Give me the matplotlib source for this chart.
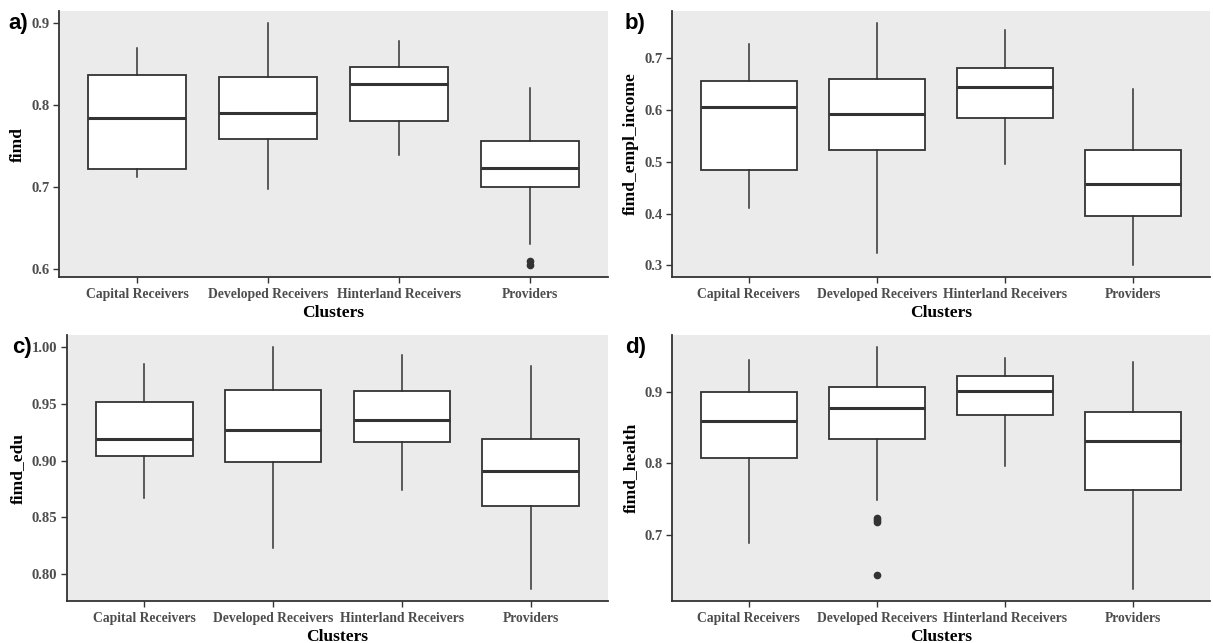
import matplotlib
matplotlib.use("Agg")
import matplotlib.pyplot as plt

categories = ["Capital Receivers", "Developed Receivers", "Hinterland Receivers", "Providers"]

# panel a: fimd
a_whislo = [0.712, 0.698, 0.739, 0.631]
a_q1 = [0.722, 0.759, 0.780, 0.700]
a_med = [0.784, 0.790, 0.826, 0.723]
a_q3 = [0.837, 0.834, 0.847, 0.756]
a_whishi = [0.870, 0.900, 0.878, 0.821]
a_fliers = [[], [], [], [0.610, 0.605]]

# panel b: fimd_empl_income
b_whislo = [0.410, 0.324, 0.495, 0.301]
b_q1 = [0.485, 0.523, 0.585, 0.396]
b_med = [0.605, 0.593, 0.645, 0.457]
b_q3 = [0.656, 0.660, 0.681, 0.522]
b_whishi = [0.728, 0.768, 0.755, 0.640]
b_fliers = [[], [], [], []]

# panel c: fimd_edu
c_whislo = [0.867, 0.823, 0.874, 0.787]
c_q1 = [0.904, 0.899, 0.916, 0.860]
c_med = [0.919, 0.927, 0.936, 0.891]
c_q3 = [0.952, 0.962, 0.961, 0.919]
c_whishi = [0.985, 1.000, 0.993, 0.983]
c_fliers = [[], [], [], []]

# panel d: fimd_health
d_whislo = [0.689, 0.748, 0.796, 0.624]
d_q1 = [0.807, 0.834, 0.868, 0.762]
d_med = [0.859, 0.878, 0.901, 0.832]
d_q3 = [0.900, 0.907, 0.922, 0.872]
d_whishi = [0.945, 0.963, 0.948, 0.942]
d_fliers = [[], [0.724, 0.721, 0.718, 0.644], [], []]

panels = [
    ("a)", "fimd", a_whislo, a_q1, a_med, a_q3, a_whishi, a_fliers, [0.6, 0.7, 0.8, 0.9], "{:.1f}"),
    ("b)", "fimd_empl_income", b_whislo, b_q1, b_med, b_q3, b_whishi, b_fliers, [0.3, 0.4, 0.5, 0.6, 0.7], "{:.1f}"),
    ("c)", "fimd_edu", c_whislo, c_q1, c_med, c_q3, c_whishi, c_fliers, [0.80, 0.85, 0.90, 0.95, 1.00], "{:.2f}"),
    ("d)", "fimd_health", d_whislo, d_q1, d_med, d_q3, d_whishi, d_fliers, [0.7, 0.8, 0.9], "{:.1f}"),
]

W, H = 1213, 643
fig = plt.figure(figsize=(W / 100, H / 100), dpi=100)

# axes boxes in pixels: left, right, top, bottom
rects = [(59, 608, 11, 277), (672, 1210, 11, 277), (67, 608, 335, 601), (672, 1210, 335, 601)]
label_x = [8, 625, 12, 625]

serif = "Liberation Serif"
edge = "#333333"

for (lab, ylab, wl, q1, md, q3, wh, fl, ticks, fmt), (l, r, t, b), lx in zip(panels, rects, label_x):
    ax = fig.add_axes([l / W, 1 - b / H, (r - l) / W, (b - t) / H])
    ax.set_facecolor("#EBEBEB")
    stats = []
    for i, c in enumerate(categories):
        stats.append(dict(label=c, whislo=wl[i], q1=q1[i], med=md[i], q3=q3[i], whishi=wh[i], fliers=fl[i]))
    pos = list(range(1, len(categories) + 1))
    ax.bxp(stats, positions=pos, widths=0.75, patch_artist=True, showcaps=False,
           boxprops=dict(facecolor="white", edgecolor=edge, linewidth=1.3),
           medianprops=dict(color=edge, linewidth=2.2),
           whiskerprops=dict(color=edge, linewidth=1.1),
           flierprops=dict(marker="o", markerfacecolor=edge, markeredgecolor=edge, markersize=4.5))
    allv = wl + wh + [v for f in fl for v in f]
    lo, hi = min(allv), max(allv)
    pad = (hi - lo) * 0.05
    ax.set_ylim(lo - pad, hi + pad)
    ax.set_xlim(0.4, len(categories) + 0.6)
    ax.set_yticks(ticks)
    ax.set_yticklabels([fmt.format(v) for v in ticks], fontfamily=serif, fontweight="bold",
                       color="#4D4D4D", fontsize=10.5)
    ax.set_xticks(pos)
    ax.set_xticklabels(categories, fontfamily=serif, fontweight="bold", color="#4D4D4D", fontsize=9.8)
    ax.tick_params(axis="both", length=4, width=1, color=edge, pad=3)
    ax.tick_params(axis="x", pad=4)
    for s in ["top", "right"]:
        ax.spines[s].set_visible(False)
    for s in ["left", "bottom"]:
        ax.spines[s].set_color(edge)
        ax.spines[s].set_linewidth(1.3)
    ax.set_xlabel("Clusters", fontfamily=serif, fontweight="bold", fontsize=12.5, color="black", labelpad=3)
    ax.set_ylabel(ylab, fontfamily=serif, fontweight="bold", fontsize=12.5, color="black", labelpad=4)
    fig.text(lx / W, 1 - (t + 12) / H, lab, fontfamily="Liberation Sans", fontweight="bold",
             fontsize=16, ha="left", va="center")

fig.savefig("out.png", dpi=100, facecolor="white")
